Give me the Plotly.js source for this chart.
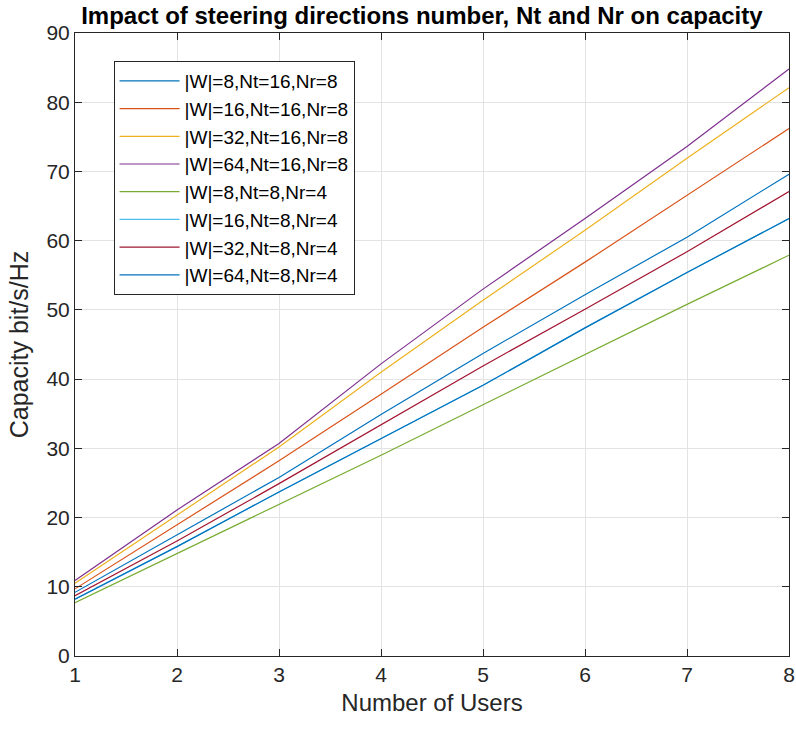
<!DOCTYPE html>
<html>
<head>
<meta charset="utf-8">
<script src="https://cdn.plot.ly/plotly-3.0.1.min.js"></script>
<style>html,body{margin:0;padding:0;background:#fff;}#chart{width:796px;height:733px;}</style>
</head>
<body>
<div id="chart"></div>
<script>
const users = [1, 2, 3, 4, 5, 6, 7, 8];
const seriesNames = [
  '|W|=8,Nt=16,Nr=8',
  '|W|=16,Nt=16,Nr=8',
  '|W|=32,Nt=16,Nr=8',
  '|W|=64,Nt=16,Nr=8',
  '|W|=8,Nt=8,Nr=4',
  '|W|=16,Nt=8,Nr=4',
  '|W|=32,Nt=8,Nr=4',
  '|W|=64,Nt=8,Nr=4'
];
const w8_nt16   = [9.2, 17.5, 25.8, 34.9, 43.7, 52.2, 60.5, 69.6];
const w16_nt16  = [9.7, 18.9, 28.2, 37.8, 47.5, 56.9, 66.6, 76.2];
const w32_nt16  = [10.5, 20.4, 30.2, 41.0, 51.4, 61.5, 71.9, 82.1];
const w64_nt16  = [10.9, 21.1, 30.7, 42.2, 53.0, 63.2, 73.6, 84.8];
const w8_nt8    = [7.7, 14.8, 21.8, 29.0, 36.3, 43.6, 50.8, 57.9];
const w16_nt8   = [8.2, 15.8, 23.7, 31.4, 39.1, 47.4, 55.4, 63.2];
const w32_nt8   = [8.7, 16.6, 24.9, 33.4, 41.9, 50.1, 58.4, 67.1];
const w64_nt8   = [8.2, 15.8, 23.7, 31.4, 39.1, 47.4, 55.4, 63.2];
const allSeries = [w8_nt16, w16_nt16, w32_nt16, w64_nt16, w8_nt8, w16_nt8, w32_nt8, w64_nt8];
const colors = ['#0072BD', '#D95319', '#EDB120', '#7E2F8E', '#77AC30', '#4DBEEE', '#A2142F', '#0072BD'];

const traces = allSeries.map((ys, i) => ({
  x: users, y: ys, type: 'scatter', mode: 'lines',
  name: seriesNames[i],
  line: {color: colors[i], width: 1.2}
}));

const FONT = 'Liberation Sans, Arial, sans-serif';
const axisCommon = {
  showgrid: true, gridcolor: '#e3e3e3', gridwidth: 1,
  showline: true, linecolor: '#262626', linewidth: 1, mirror: 'ticks',
  ticks: 'inside', ticklen: 7, tickcolor: '#262626',
  zeroline: false,
  tickfont: {family: FONT, size: 21, color: '#262626'}
};

const layout = {
  width: 796, height: 733,
  margin: {l: 75, r: 7, t: 33, b: 77},
  paper_bgcolor: '#ffffff', plot_bgcolor: '#ffffff',
  title: {
    text: '<b>Impact of steering directions number, Nt and Nr on capacity</b>',
    font: {family: FONT, size: 24, color: '#000'},
    x: 0.53, xanchor: 'center', y: 0.99, yanchor: 'top'
  },
  xaxis: Object.assign({}, axisCommon, {
    range: [1, 8], tickvals: users, ticktext: users.map(String),
    title: {text: 'Number of Users', font: {family: FONT, size: 24, color: '#262626'}, standoff: 8}
  }),
  yaxis: Object.assign({}, axisCommon, {
    range: [0, 90], dtick: 10,
    title: {text: 'Capacity bit/s/Hz', font: {family: FONT, size: 25, color: '#262626'}, standoff: 10}
  }),
  showlegend: true,
  legend: {
    x: 0.054, y: 0.955, xanchor: 'left', yanchor: 'top',
    bgcolor: '#ffffff', bordercolor: '#262626', borderwidth: 1,
    font: {family: FONT, size: 19, color: '#000'},
    tracegroupgap: 0, itemwidth: 60
  }
};

Plotly.newPlot('chart', traces, layout, {displayModeBar: false, staticPlot: true});
</script>
</body>
</html>
